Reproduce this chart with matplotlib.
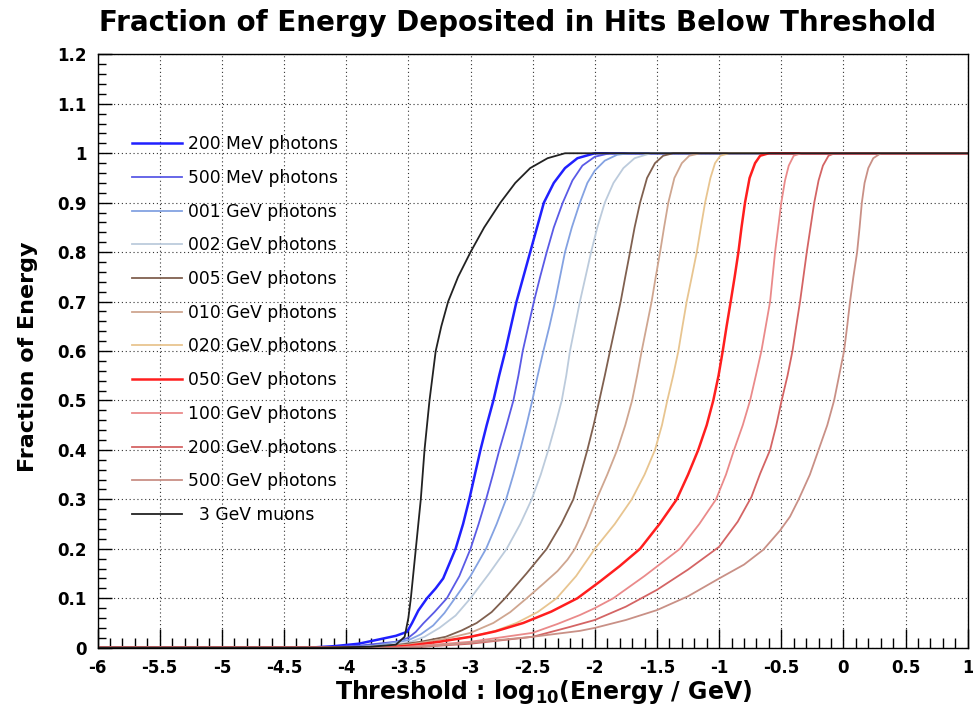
import matplotlib
matplotlib.use("Agg")
import matplotlib.pyplot as plt
from matplotlib.ticker import MultipleLocator, FormatStrFormatter

plt.rcParams['font.family'] = ['DejaVu Sans']
plt.rcParams['axes.unicode_minus'] = False
plt.rcParams['mathtext.default'] = 'regular'

labels = ["200 MeV photons", "500 MeV photons", "001 GeV photons", "002 GeV photons",
          "005 GeV photons", "010 GeV photons", "020 GeV photons", "050 GeV photons",
          "100 GeV photons", "200 GeV photons", "500 GeV photons", "  3 GeV muons"]
colors = ["#2020ff", "#5a5ae6", "#84a2e2", "#bccbdc", "#80604f", "#cfa690",
          "#e8c590", "#ff1e1e", "#ea8a8a", "#d46464", "#c99086", "#222222"]
widths = [1.8, 1.3, 1.3, 1.3, 1.3, 1.3, 1.3, 1.8, 1.3, 1.3, 1.3, 1.3]

x_200mev = [-6, -4.3, -4.1, -3.9, -3.73, -3.6, -3.51, -3.47, -3.42, -3.35, -3.28, -3.22, -3.17, -3.12, -3.06, -3.01, -2.965, -2.92, -2.87, -2.816, -2.77, -2.72, -2.675, -2.63, -2.575, -2.52, -2.465, -2.41, -2.33, -2.24, -2.14, -2.0, 1]
y_200mev = [0, 0, 0.003, 0.008, 0.017, 0.024, 0.032, 0.05, 0.075, 0.10, 0.12, 0.14, 0.17, 0.20, 0.25, 0.30, 0.35, 0.40, 0.45, 0.50, 0.55, 0.60, 0.65, 0.70, 0.75, 0.80, 0.85, 0.90, 0.94, 0.97, 0.99, 1.0, 1.0]

x_500mev = [-6, -4.2, -3.9, -3.6, -3.5, -3.44, -3.38, -3.29, -3.19, -3.09, -3.0, -2.935, -2.875, -2.82, -2.768, -2.71, -2.655, -2.615, -2.58, -2.535, -2.49, -2.44, -2.387, -2.33, -2.258, -2.18, -2.1, -2.0, -1.88, 1]
y_500mev = [0, 0, 0.004, 0.012, 0.02, 0.032, 0.049, 0.072, 0.10, 0.145, 0.20, 0.25, 0.30, 0.35, 0.40, 0.45, 0.50, 0.55, 0.60, 0.65, 0.70, 0.75, 0.80, 0.85, 0.90, 0.945, 0.975, 0.993, 1.0, 1.0]

x_001 = [-6, -4.1, -3.8, -3.5, -3.4, -3.3, -3.21, -3.125, -3.0, -2.875, -2.79, -2.714, -2.655, -2.6, -2.55, -2.503, -2.46, -2.414, -2.365, -2.32, -2.28, -2.24, -2.185, -2.12, -2.06, -2.0, -1.92, -1.82, -1.72, 1]
y_001 = [0, 0, 0.003, 0.015, 0.027, 0.045, 0.07, 0.10, 0.145, 0.20, 0.25, 0.30, 0.35, 0.40, 0.45, 0.50, 0.55, 0.60, 0.65, 0.70, 0.75, 0.80, 0.85, 0.90, 0.94, 0.965, 0.985, 0.997, 1.0, 1.0]

x_002 = [-6, -4.0, -3.7, -3.5, -3.37, -3.25, -3.12, -3.0, -2.85, -2.709, -2.6, -2.508, -2.435, -2.374, -2.318, -2.266, -2.23, -2.2, -2.16, -2.12, -2.075, -2.03, -1.98, -1.92, -1.85, -1.77, -1.68, -1.55, 1]
y_002 = [0, 0, 0.004, 0.01, 0.022, 0.04, 0.065, 0.10, 0.15, 0.20, 0.25, 0.30, 0.35, 0.40, 0.45, 0.50, 0.55, 0.60, 0.65, 0.70, 0.75, 0.80, 0.85, 0.90, 0.94, 0.97, 0.99, 1.0, 1.0]

x_005 = [-6, -3.9, -3.6, -3.4, -3.2, -3.07, -2.95, -2.83, -2.722, -2.55, -2.387, -2.27, -2.173, -2.115, -2.06, -2.01, -1.964, -1.92, -1.878, -1.835, -1.792, -1.755, -1.717, -1.68, -1.636, -1.58, -1.516, -1.45, -1.37, 1]
y_005 = [0, 0, 0.005, 0.012, 0.022, 0.035, 0.05, 0.072, 0.10, 0.15, 0.20, 0.25, 0.30, 0.35, 0.40, 0.45, 0.50, 0.55, 0.60, 0.65, 0.70, 0.75, 0.80, 0.85, 0.90, 0.95, 0.98, 0.995, 1.0, 1.0]

x_010 = [-6, -3.8, -3.5, -3.2, -3.0, -2.816, -2.68, -2.548, -2.42, -2.3, -2.22, -2.16, -2.075, -1.995, -1.9, -1.82, -1.755, -1.70, -1.66, -1.623, -1.583, -1.543, -1.51, -1.475, -1.443, -1.409, -1.36, -1.30, -1.24, -1.15, 1]
y_010 = [0, 0, 0.006, 0.018, 0.03, 0.05, 0.072, 0.10, 0.128, 0.155, 0.178, 0.20, 0.245, 0.295, 0.35, 0.40, 0.45, 0.50, 0.55, 0.60, 0.65, 0.70, 0.75, 0.80, 0.85, 0.90, 0.95, 0.98, 0.995, 1.0, 1.0]

x_020 = [-6, -3.7, -3.3, -3.0, -2.8, -2.63, -2.46, -2.307, -2.15, -2.0, -1.84, -1.703, -1.6, -1.516, -1.46, -1.417, -1.37, -1.328, -1.295, -1.261, -1.22, -1.18, -1.147, -1.113, -1.07, -1.033, -0.99, -0.92, 1]
y_020 = [0, 0, 0.01, 0.022, 0.034, 0.05, 0.072, 0.10, 0.145, 0.20, 0.25, 0.30, 0.35, 0.40, 0.45, 0.50, 0.55, 0.60, 0.65, 0.70, 0.75, 0.80, 0.85, 0.90, 0.95, 0.98, 0.995, 1.0, 1.0]

x_050 = [-6, -3.7, -3.5, -3.25, -3.0, -2.8, -2.575, -2.35, -2.14, -1.958, -1.8, -1.636, -1.48, -1.341, -1.25, -1.168, -1.10, -1.047, -1.005, -0.971, -0.94, -0.907, -0.875, -0.845, -0.82, -0.792, -0.755, -0.711, -0.67, -0.6, 1]
y_050 = [0, 0, 0.004, 0.012, 0.022, 0.033, 0.05, 0.073, 0.10, 0.134, 0.165, 0.20, 0.25, 0.30, 0.35, 0.40, 0.45, 0.50, 0.55, 0.60, 0.65, 0.70, 0.75, 0.80, 0.85, 0.90, 0.95, 0.98, 0.995, 1.0, 1.0]

x_100 = [-6, -3.6, -3.0, -2.5, -2.3, -2.12, -2.0, -1.851, -1.6, -1.315, -1.16, -1.025, -0.945, -0.88, -0.81, -0.751, -0.705, -0.66, -0.625, -0.59, -0.57, -0.55, -0.525, -0.5, -0.47, -0.44, -0.40, -0.34, 1]
y_100 = [0, 0, 0.012, 0.03, 0.048, 0.066, 0.08, 0.10, 0.145, 0.20, 0.25, 0.30, 0.35, 0.40, 0.45, 0.50, 0.55, 0.60, 0.65, 0.70, 0.75, 0.80, 0.85, 0.90, 0.945, 0.975, 0.995, 1.0, 1.0]

x_200 = [-6, -3.5, -3.0, -2.5, -2.2, -2.0, -1.75, -1.5, -1.25, -1.0, -0.85, -0.74, -0.67, -0.59, -0.54, -0.497, -0.45, -0.41, -0.38, -0.349, -0.322, -0.295, -0.265, -0.235, -0.2, -0.165, -0.12, -0.07, 1]
y_200 = [0, 0, 0.008, 0.022, 0.042, 0.056, 0.083, 0.117, 0.158, 0.204, 0.255, 0.305, 0.352, 0.40, 0.45, 0.50, 0.55, 0.60, 0.65, 0.70, 0.75, 0.80, 0.85, 0.90, 0.945, 0.975, 0.995, 1.0, 1.0]

x_500 = [-6, -3.5, -3.0, -2.5, -2.12, -2.0, -1.75, -1.5, -1.25, -1.0, -0.8, -0.645, -0.51, -0.43, -0.36, -0.27, -0.2, -0.13, -0.075, -0.035, 0.005, 0.03, 0.053, 0.08, 0.11, 0.13, 0.148, 0.17, 0.2, 0.24, 0.3, 1]
y_500 = [0, 0, 0.01, 0.022, 0.034, 0.040, 0.056, 0.076, 0.104, 0.14, 0.168, 0.198, 0.237, 0.265, 0.30, 0.35, 0.40, 0.45, 0.50, 0.55, 0.60, 0.65, 0.70, 0.75, 0.80, 0.85, 0.90, 0.94, 0.97, 0.99, 1.0, 1.0]

x_muon = [-6, -4.2, -3.8, -3.6, -3.53, -3.5, -3.48, -3.46, -3.44, -3.42, -3.40, -3.385, -3.37, -3.35, -3.33, -3.305, -3.28, -3.235, -3.18, -3.1, -3.0, -2.89, -2.76, -2.64, -2.52, -2.38, -2.24, 1]
y_muon = [0, 0, 0.002, 0.006, 0.022, 0.06, 0.10, 0.15, 0.20, 0.25, 0.30, 0.35, 0.40, 0.45, 0.50, 0.55, 0.60, 0.65, 0.70, 0.75, 0.80, 0.85, 0.90, 0.94, 0.97, 0.99, 1.0, 1.0]

xs = [x_200mev, x_500mev, x_001, x_002, x_005, x_010, x_020, x_050, x_100, x_200, x_500, x_muon]
ys = [y_200mev, y_500mev, y_001, y_002, y_005, y_010, y_020, y_050, y_100, y_200, y_500, y_muon]

fig = plt.figure(figsize=(9.73, 7.09), dpi=100)
ax = fig.add_axes([0.1003, 0.0865, 0.8943, 0.8368])

for x, y, c, w, lab in zip(xs, ys, colors, widths, labels):
    ax.plot(x, y, color=c, lw=w, label=lab, solid_joinstyle='round')

ax.set_xlim(-6, 1)
ax.set_ylim(0, 1.2)
ax.xaxis.set_major_locator(MultipleLocator(0.5))
ax.xaxis.set_minor_locator(MultipleLocator(0.1))
ax.yaxis.set_major_locator(MultipleLocator(0.1))
ax.yaxis.set_minor_locator(MultipleLocator(0.02))
ax.xaxis.set_major_formatter(FormatStrFormatter('%g'))
ax.yaxis.set_major_formatter(FormatStrFormatter('%g'))
ax.grid(True, which='major', color='#333333', lw=0.8, linestyle=(0, (1, 2.5)))
ax.tick_params(axis='x', which='major', direction='in', length=14, width=1, pad=8, labelsize=12)
ax.tick_params(axis='x', which='minor', direction='in', length=7, width=1)
ax.tick_params(axis='y', which='major', direction='in', length=10, width=1, pad=8, labelsize=12)
ax.tick_params(axis='y', which='minor', direction='in', length=6, width=1)
for lab in ax.get_xticklabels() + ax.get_yticklabels():
    lab.set_fontweight('bold')
for s in ax.spines.values():
    s.set_linewidth(1.0)
    s.set_color('black')

ax.set_xlabel('Threshold : log$_{10}$(Energy / GeV)', fontsize=17, fontweight='bold', labelpad=1, x=0.512)
ax.set_ylabel('Fraction of Energy', fontsize=16, fontweight='bold', labelpad=14, y=0.49)
fig.text(0.532, 0.968, 'Fraction of Energy Deposited in Hits Below Threshold',
         ha='center', va='center', fontsize=20, fontweight='bold')

leg = ax.legend(loc='upper left', bbox_to_anchor=(0.04, 0.864), frameon=False,
                fontsize=12.3, handlelength=2.9, handletextpad=0.35,
                labelspacing=0.92, borderaxespad=0, borderpad=0)

fig.savefig('out.png', dpi=100)
